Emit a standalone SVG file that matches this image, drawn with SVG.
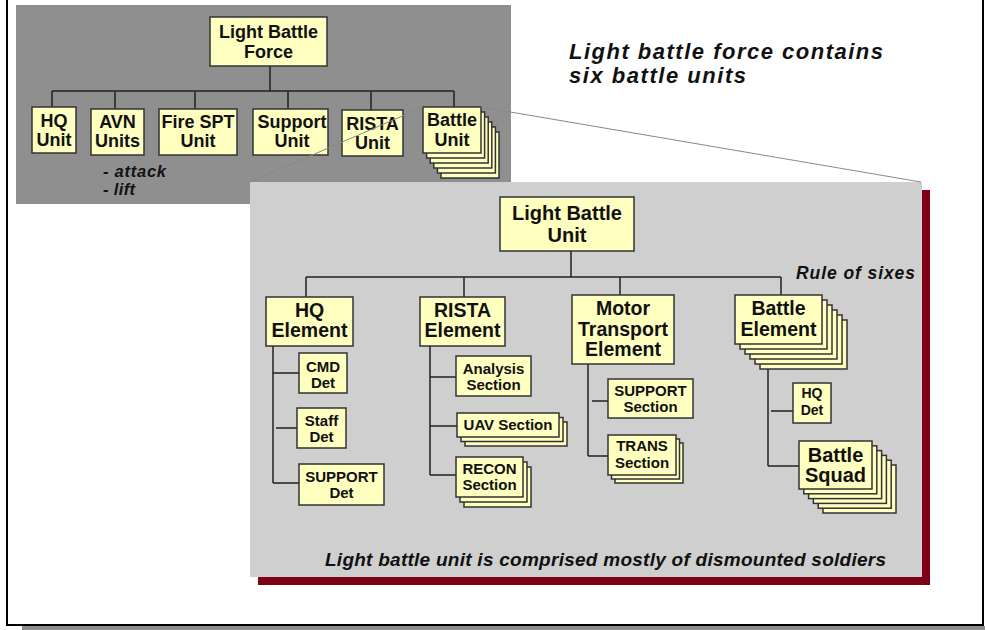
<svg xmlns="http://www.w3.org/2000/svg" width="985" height="630" viewBox="0 0 985 630">
<style>
.bx{fill:#ffffc0;stroke:#333;stroke-width:1.5}
.t{font-family:"Liberation Sans",Arial,sans-serif;font-weight:bold;fill:#111;text-anchor:middle}
.it{font-family:"Liberation Sans",Arial,sans-serif;font-weight:bold;font-style:italic;fill:#111}
.c{stroke:#222;stroke-width:1.5;fill:none}
.z{stroke:#888;stroke-width:1;fill:none}
</style>
<rect x="0" y="0" width="985" height="630" fill="#fff"/>
<rect x="22" y="626" width="963" height="4" fill="#8c8c8c"/>
<path d="M7 0 V625 H983 V0" fill="none" stroke="#000" stroke-width="2"/>
<rect x="16" y="5" width="495" height="199" fill="#8f8f8f"/>
<rect x="258" y="190" width="672" height="395" fill="#7d0016"/>
<rect x="250" y="182" width="672" height="395" fill="#cfcfcf"/>
<text class="it" x="569" y="59" font-size="22" textLength="314" lengthAdjust="spacing">Light battle force contains</text>
<text class="it" x="569" y="83" font-size="22" textLength="177" lengthAdjust="spacing">six battle units</text>
<text class="it" x="103" y="177" font-size="16.5" textLength="63" lengthAdjust="spacing">- attack</text>
<text class="it" x="103" y="195" font-size="16.5" textLength="32" lengthAdjust="spacing">- lift</text>
<text class="it" x="796" y="279" font-size="17.5" textLength="119" lengthAdjust="spacing">Rule of sixes</text>
<text class="it" x="325" y="566" font-size="19" textLength="561" lengthAdjust="spacing">Light battle unit is comprised mostly of dismounted soldiers</text>
<g id="connectors">
<path class="c" d="M270 66 V91 M52 91 H454 M52 91 V107 M115 91 V109 M195 91 V109 M288 91 V109 M371 91 V110 M454 91 V107"/>
<path class="c" d="M571 251 V277 M306 277 H781 M306 277 V297 M464 277 V297 M620 277 V295 M781 277 V295"/>
<path class="c" d="M273 346 V483 M273 373 H299 M276 428 H297 M273 483 H299"/>
<path class="c" d="M430 346 V475 M430 377 H456 M430 426 H457 M430 475 H456"/>
<path class="c" d="M588 364 V456 M592 401 H608 M588 456 H608"/>
<path class="c" d="M768 344 V466 M771 411 H793 M768 466 H799"/>
</g>
<g id="lbf"><rect class="bx" x="210" y="17" width="117" height="49"/><text class="t" font-size="18" x="268.5" y="38">Light Battle</text><text class="t" font-size="18" x="268.5" y="58">Force</text></g>
<g id="hq-unit"><rect class="bx" x="32" y="107" width="44" height="46"/><text class="t" font-size="18" x="54" y="127">HQ</text><text class="t" font-size="18" x="54" y="146">Unit</text></g>
<g id="avn-units"><rect class="bx" x="91" y="109" width="53" height="46"/><text class="t" font-size="18" x="117.5" y="128">AVN</text><text class="t" font-size="18" x="117.5" y="147">Units</text></g>
<g id="fire-spt"><rect class="bx" x="159" y="109" width="78" height="46"/><text class="t" font-size="18" x="198" y="128">Fire SPT</text><text class="t" font-size="18" x="198" y="147">Unit</text></g>
<g id="support-unit"><rect class="bx" x="253" y="109" width="75" height="46"/><text class="t" font-size="18" x="292" y="128">Support</text><text class="t" font-size="18" x="292" y="147">Unit</text></g>
<g id="rista-unit"><rect class="bx" x="342" y="110" width="61" height="46"/><text class="t" font-size="18" x="372.5" y="130">RISTA</text><text class="t" font-size="18" x="372.5" y="149">Unit</text></g>
<g id="battle-unit">
<rect class="bx" x="441" y="132" width="58" height="46"/><rect class="bx" x="437.4" y="127" width="58" height="46"/><rect class="bx" x="433.8" y="122" width="58" height="46"/><rect class="bx" x="430.2" y="117" width="58" height="46"/><rect class="bx" x="426.6" y="112" width="58" height="46"/><rect class="bx" x="423" y="107" width="58" height="46"/>
<text class="t" font-size="18" x="452" y="126">Battle</text><text class="t" font-size="18" x="452" y="146">Unit</text></g>
<g id="zoom-lines"><path class="z" d="M250 182 L423 107 M481 107 L921 182"/></g>
<g id="lbu"><rect class="bx" x="500" y="197" width="134" height="54"/><text class="t" font-size="20" x="567" y="220">Light Battle</text><text class="t" font-size="20" x="567" y="242">Unit</text></g>
<g id="hq-element"><rect class="bx" x="266" y="297" width="87" height="49"/><text class="t" font-size="19.5" x="309.5" y="317">HQ</text><text class="t" font-size="19.5" x="309.5" y="337">Element</text></g>
<g id="rista-element"><rect class="bx" x="420" y="297" width="85" height="49"/><text class="t" font-size="19.5" x="462.5" y="317">RISTA</text><text class="t" font-size="19.5" x="462.5" y="337">Element</text></g>
<g id="motor-element"><rect class="bx" x="572" y="295" width="102" height="69"/><text class="t" font-size="19.5" x="623" y="315">Motor</text><text class="t" font-size="19.5" x="623" y="336">Transport</text><text class="t" font-size="19.5" x="623" y="356">Element</text></g>
<g id="battle-element">
<rect class="bx" x="760" y="320" width="87" height="49"/><rect class="bx" x="755" y="315" width="87" height="49"/><rect class="bx" x="750" y="310" width="87" height="49"/><rect class="bx" x="745" y="305" width="87" height="49"/><rect class="bx" x="740" y="300" width="87" height="49"/><rect class="bx" x="735" y="295" width="87" height="49"/>
<text class="t" font-size="19.5" x="778.5" y="315">Battle</text><text class="t" font-size="19.5" x="778.5" y="336">Element</text></g>
<g id="cmd-det"><rect class="bx" x="299" y="353" width="48" height="40"/><text class="t" font-size="15" x="323" y="372">CMD</text><text class="t" font-size="15" x="323" y="388">Det</text></g>
<g id="staff-det"><rect class="bx" x="297" y="408" width="49" height="40"/><text class="t" font-size="15" x="321.5" y="426">Staff</text><text class="t" font-size="15" x="321.5" y="442">Det</text></g>
<g id="support-det"><rect class="bx" x="299" y="464" width="85" height="41"/><text class="t" font-size="15" x="341.5" y="482">SUPPORT</text><text class="t" font-size="15" x="341.5" y="498">Det</text></g>
<g id="analysis"><rect class="bx" x="456" y="356" width="75" height="40"/><text class="t" font-size="15" x="493.5" y="374">Analysis</text><text class="t" font-size="15" x="493.5" y="390">Section</text></g>
<g id="uav"><rect class="bx" x="465" y="422" width="102" height="24"/><rect class="bx" x="461" y="417.5" width="102" height="24"/><rect class="bx" x="457" y="413" width="102" height="24"/><text class="t" font-size="15" x="508" y="430">UAV Section</text></g>
<g id="recon"><rect class="bx" x="464" y="467" width="67" height="40"/><rect class="bx" x="460" y="462" width="67" height="40"/><rect class="bx" x="456" y="457" width="67" height="40"/><text class="t" font-size="15" x="489.5" y="474">RECON</text><text class="t" font-size="15" x="489.5" y="490">Section</text></g>
<g id="support-section"><rect class="bx" x="608" y="379" width="85" height="39"/><text class="t" font-size="15" x="650.5" y="396">SUPPORT</text><text class="t" font-size="15" x="650.5" y="412">Section</text></g>
<g id="trans"><rect class="bx" x="615" y="443" width="68" height="40"/><rect class="bx" x="611.5" y="439" width="68" height="40"/><rect class="bx" x="608" y="435" width="68" height="40"/><text class="t" font-size="15" x="642" y="451">TRANS</text><text class="t" font-size="15" x="642" y="468">Section</text></g>
<g id="hq-det"><rect class="bx" x="793" y="383" width="38" height="40"/><text class="t" font-size="14" x="812" y="398">HQ</text><text class="t" font-size="14" x="812" y="415">Det</text></g>
<g id="battle-squad">
<rect class="bx" x="823" y="465" width="73" height="48"/><rect class="bx" x="818.2" y="460.2" width="73" height="48"/><rect class="bx" x="813.4" y="455.4" width="73" height="48"/><rect class="bx" x="808.6" y="450.6" width="73" height="48"/><rect class="bx" x="803.8" y="445.8" width="73" height="48"/><rect class="bx" x="799" y="441" width="73" height="48"/>
<text class="t" font-size="20" x="835.5" y="462">Battle</text><text class="t" font-size="20" x="835.5" y="482">Squad</text></g>
</svg>
